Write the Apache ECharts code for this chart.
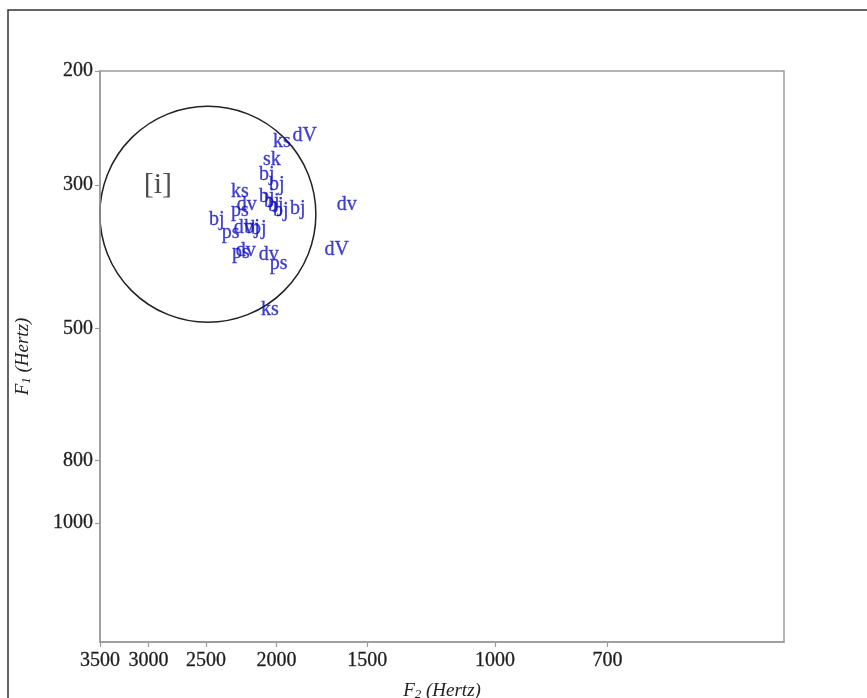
<!DOCTYPE html>
<html>
<head>
<meta charset="utf-8">
<script src="https://cdn.jsdelivr.net/npm/echarts@6/dist/echarts.min.js"></script>
<style>
  html, body { margin: 0; padding: 0; background: #fff; }
  #chart { width: 867px; height: 698px; }
</style>
</head>
<body>
<div id="chart"></div>
<script>
// Speaker code for each measured [i] token, with its formants in Hz
const speakers = ['ks','dV','sk','bj','bj','ks','bj','bj','bj','bj','bj','dv','dv','ps','bj',
                  'ps','dv','bj','bj','ps','dv','dv','ps','dV','ks'];
const f2Values = [1966,1828,2030,2063,1998,2246,2063,2030,2004,1973,1869,1601,2197,2246,2416,
                  2312,2218,2162,2115,2239,2204,2049,1986,1652,2042];
const f1Values = [257,252,274,289,300,307,313,318,323,329,327,322,322,329,339,
                  356,350,350,351,382,379,385,397,378,467];

// Axis ticks
const f2Ticks = [3500,3000,2500,2000,1500,1000,700];
const f1Ticks = [200,300,500,800,1000];

// Vowel category label and the centre of its region
const vowelLabel = '[i]';
const vowelLabelPos = [2913, 300];
const vowelCentre = [2486, 333];

const serif = '"Liberation Serif", "DejaVu Serif", serif';

const chart = echarts.init(document.getElementById('chart'));

const tokenData = speakers.map((s, i) => ({ name: s, value: [f2Values[i], f1Values[i]] }));

const axisCommon = {
  type: 'log',
  logBase: 10,
  axisLine: { show: true, lineStyle: { color: '#9a9a9a', width: 1.5 } },
  axisTick: { show: true, length: 5, lineStyle: { color: '#9a9a9a', width: 1.2 } },
  splitLine: { show: false },
  minorTick: { show: false },
  nameLocation: 'middle',
  nameTextStyle: {
    fontFamily: serif, fontStyle: 'italic', fontSize: 19, color: '#222',
    rich: {
      f: { fontFamily: serif, fontStyle: 'italic', fontSize: 19, color: '#222' },
      s: { fontFamily: serif, fontStyle: 'italic', fontSize: 13, color: '#222', verticalAlign: 'bottom', padding: [8, 0, 0, 0] }
    }
  }
};

const plainNumber = v => String(Math.round(v));
const tickText = { fontFamily: serif, fontSize: 20, color: '#1e1e1e', textBorderColor: '#1e1e1e', textBorderWidth: 0.3 };

chart.setOption({
  animation: false,
  backgroundColor: '#fff',
  grid: {
    left: 100, top: 71, right: 83, bottom: 56,
    outerBoundsMode: 'none',
    containLabel: false,
    show: true, borderColor: '#9a9a9a', borderWidth: 1.5, backgroundColor: 'transparent'
  },
  xAxis: Object.assign({}, axisCommon, {
    inverse: true,
    min: 400, max: 3500,
    name: '{f|F}{s|2}{f| (Hertz)}',
    nameGap: 38,
    axisTick: Object.assign({}, axisCommon.axisTick, { customValues: f2Ticks }),
    axisLabel: Object.assign({ customValues: f2Ticks, margin: 9, formatter: plainNumber }, tickText)
  }),
  yAxis: Object.assign({}, axisCommon, {
    inverse: true,
    min: 200, max: 1526,
    name: '{f|F}{s|1}{f| (Hertz)}',
    nameGap: 67,
    axisTick: Object.assign({}, axisCommon.axisTick, { customValues: f1Ticks }),
    axisLabel: Object.assign({ customValues: f1Ticks, margin: 7, formatter: plainNumber }, tickText)
  }),
  series: [
    {
      type: 'scatter',
      symbolSize: 0,
      data: tokenData,
      label: {
        show: true, position: 'inside', formatter: '{b}',
        fontFamily: serif, fontSize: 20, color: '#1010c4',
        textBorderColor: '#1010c4', textBorderWidth: 0.3
      },
      emphasis: { disabled: true }
    },
    {
      type: 'scatter',
      symbolSize: 0,
      data: [{ name: vowelLabel, value: vowelLabelPos }],
      label: {
        show: true, position: 'inside', formatter: '{b}',
        fontFamily: serif, fontSize: 30, color: '#222'
      },
      emphasis: { disabled: true }
    }
  ]
});

// Region outline around the [i] tokens plus the figure frame
const c = chart.convertToPixel({ xAxisIndex: 0, yAxisIndex: 0 }, vowelCentre);
chart.setOption({
  graphic: [
    {
      type: 'rect', silent: true,
      shape: { x: 8, y: 10, width: 900, height: 800 },
      style: { fill: 'none', stroke: '#333', lineWidth: 1.5 }
    },
    {
      type: 'circle', silent: true,
      shape: { cx: c[0], cy: c[1], r: 108 },
      style: { fill: 'none', stroke: '#222', lineWidth: 1.5 }
    }
  ]
});
</script>
</body>
</html>
